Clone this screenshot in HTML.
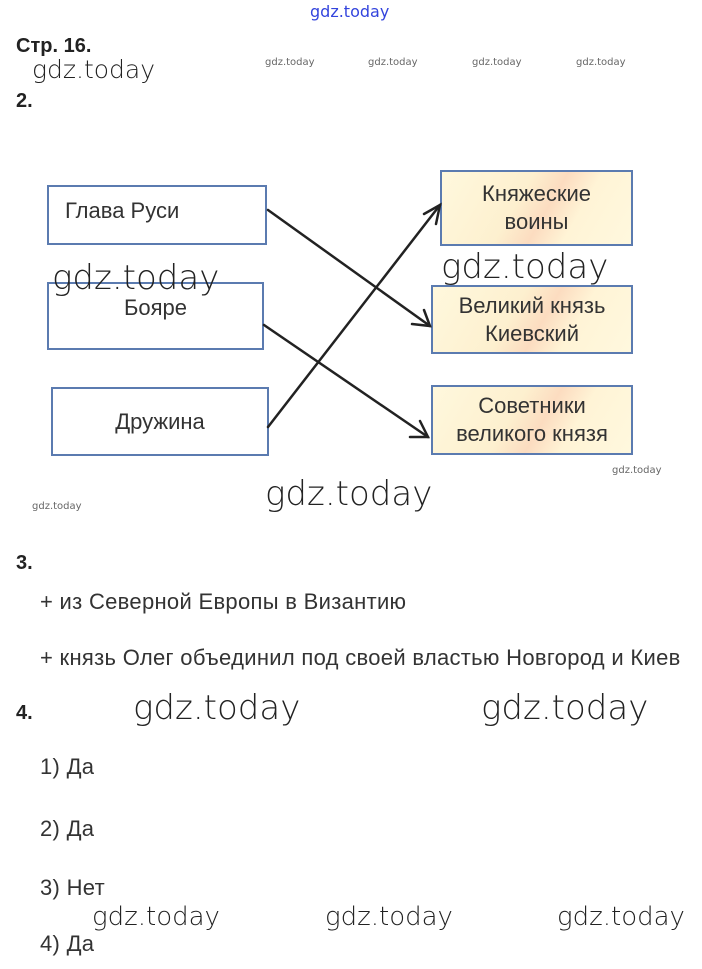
<!DOCTYPE html>
<html><head><meta charset="utf-8"><style>
html,body{margin:0;padding:0;background:#fff}
body{width:702px;height:969px;position:relative;overflow:hidden;font-family:"Liberation Sans",sans-serif;color:#333}
.a{position:absolute;white-space:nowrap}
.b{font-weight:bold;font-size:20px;color:#222}
.w{font-size:34px;color:#222;font-family:"DejaVu Sans","Liberation Sans",sans-serif;font-weight:200}
.ws{font-size:10px;color:#666;font-family:"DejaVu Sans",sans-serif}
.box{position:absolute;border:2px solid #5b7bb0;box-sizing:border-box;display:flex;align-items:center;justify-content:center;text-align:center;font-size:22px;line-height:28px;color:#333}
.y{background:linear-gradient(120deg,#fff8dd 0%,#fdf0cf 40%,#fcdcc0 55%,#fff4d6 70%,#fff8de 100%)}
.t{font-size:22px;color:#333;letter-spacing:0.3px}
</style></head><body>
<div class="a" style="left:310px;top:2px;font-size:16px;color:#3344dd;font-family:'DejaVu Sans',sans-serif">gdz.today</div>
<div class="a b" style="left:16px;top:35px">Стр. 16.</div>
<div class="a" style="left:32px;top:55px;font-size:25px;color:#222;font-family:'DejaVu Sans',sans-serif;font-weight:200">gdz.today</div>
<div class="a ws" style="left:265px;top:57px">gdz.today</div>
<div class="a ws" style="left:368px;top:57px">gdz.today</div>
<div class="a ws" style="left:472px;top:57px">gdz.today</div>
<div class="a ws" style="left:576px;top:57px">gdz.today</div>
<div class="a b" style="left:16px;top:90px">2.</div>

<div class="box" style="left:47px;top:185px;width:220px;height:60px;justify-content:flex-start;padding-left:16px;align-items:flex-start;padding-top:10px">Глава Руси</div>
<div class="box" style="left:47px;top:282px;width:217px;height:68px;align-items:flex-start;padding-top:10px">Бояре</div>
<div class="box" style="left:51px;top:387px;width:218px;height:69px">Дружина</div>
<div class="box y" style="left:440px;top:170px;width:193px;height:76px">Княжеские<br>воины</div>
<div class="box y" style="left:431px;top:285px;width:202px;height:69px">Великий князь<br>Киевский</div>
<div class="box y" style="left:431px;top:385px;width:202px;height:70px">Советники<br>великого князя</div>

<svg class="a" style="left:0;top:0" width="702" height="969">
<g stroke="#222" stroke-width="2.5" fill="none" stroke-linecap="round">
<line x1="268" y1="210" x2="430" y2="326"/>
<polyline points="412,324 430,326 424,310"/>
<line x1="264" y1="325" x2="428" y2="437"/>
<polyline points="410,437 428,437 420,421"/>
<line x1="268" y1="427" x2="440" y2="205"/>
<polyline points="436,224 440,205 424,214"/>
</g></svg>

<div class="a w" style="left:52px;top:258px">gdz.today</div>
<div class="a w" style="left:441px;top:247px">gdz.today</div>
<div class="a ws" style="left:612px;top:465px">gdz.today</div>
<div class="a w" style="left:265px;top:474px">gdz.today</div>
<div class="a ws" style="left:32px;top:501px">gdz.today</div>

<div class="a b" style="left:16px;top:552px">3.</div>
<div class="a t" style="left:40px;top:589px">+ из Северной Европы в Византию</div>
<div class="a t" style="left:40px;top:645px">+ князь Олег объединил под своей властью Новгород и Киев</div>
<div class="a b" style="left:16px;top:702px">4.</div>
<div class="a w" style="left:133px;top:688px">gdz.today</div>
<div class="a w" style="left:481px;top:688px">gdz.today</div>
<div class="a t" style="left:40px;top:754px">1) Да</div>
<div class="a t" style="left:40px;top:816px">2) Да</div>
<div class="a t" style="left:40px;top:875px">3) Нет</div>
<div class="a w" style="left:92px;top:902px;font-size:26px">gdz.today</div>
<div class="a w" style="left:325px;top:902px;font-size:26px">gdz.today</div>
<div class="a w" style="left:557px;top:902px;font-size:26px">gdz.today</div>
<div class="a t" style="left:40px;top:931px">4) Да</div>
</body></html>
